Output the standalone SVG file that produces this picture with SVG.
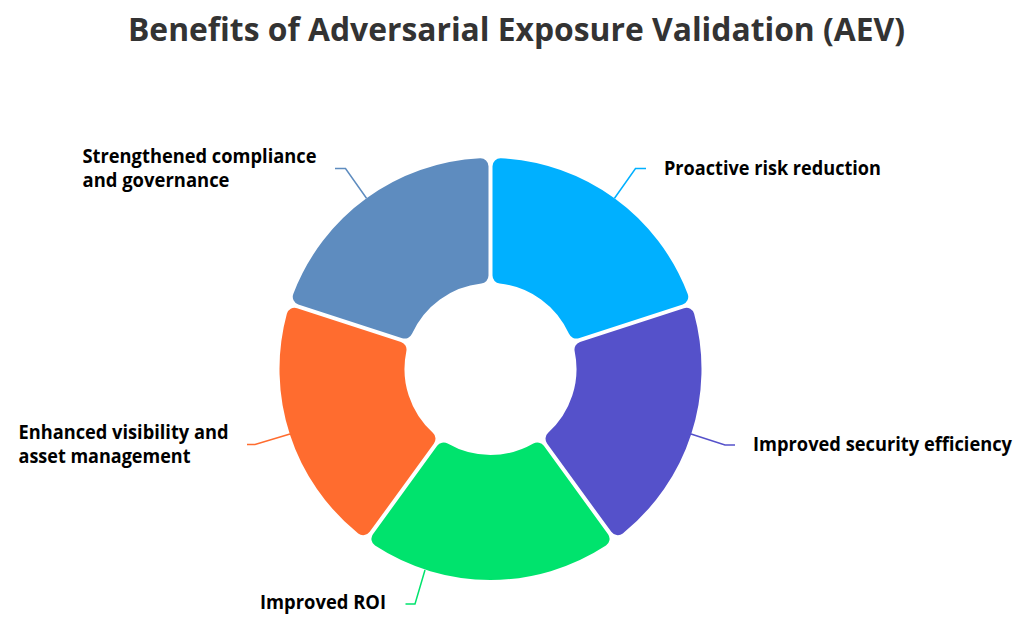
<svg xmlns="http://www.w3.org/2000/svg" xmlns:xlink="http://www.w3.org/1999/xlink" width="1025" height="625" viewBox="0 0 1025 625">
<style>
.title{font-family:"Open Sans","Noto Sans","Liberation Sans",sans-serif;font-weight:700;font-size:33px;fill:#333333}
.label{font-family:"Open Sans","Noto Sans","Liberation Sans",sans-serif;font-weight:700;font-size:19px;fill:#000000}
.leader{fill:none;stroke-width:1.5}
</style>
<defs>
<path id="seg" d="M 500.894 158.256 A 211 211 0 0 1 687.717 293.989 A 8 8 0 0 1 682.713 304.444 L 578.774 338.215 A 8 8 0 0 1 568.999 333.874 A 86 86 0 0 0 499.649 283.488 A 8 8 0 0 1 492.5 275.533 L 492.5 166.246 A 8 8 0 0 1 500.894 158.256 Z"/>
</defs>
<rect width="1025" height="625" fill="#ffffff"/>
<text class="title" x="128" y="40.5" textLength="777" lengthAdjust="spacingAndGlyphs">Benefits of Adversarial Exposure Validation (AEV)</text>

<g id="connectors">
<path class="leader" stroke="#00B0FF" d="M 614.5 198.3 L 635.5 168.5 L 646 168.5"/>
<path class="leader" stroke="#5551CA" d="M 691 434 L 725 445 L 735 445"/>
<path class="leader" stroke="#00E36D" d="M 425 570 L 415 604 L 405.5 604"/>
<path class="leader" stroke="#FF6C2F" d="M 290 434 L 255 444.5 L 247 444.5"/>
<path class="leader" stroke="#5E8CBF" d="M 366.5 198.3 L 345.5 168.5 L 335 168.5"/>
</g>

<g id="node-proactive">
<use xlink:href="#seg" href="#seg" fill="#00B0FF"/>
<text class="label" x="664" y="175" textLength="217" lengthAdjust="spacingAndGlyphs">Proactive risk reduction</text>
</g>
<g id="node-efficiency">
<use xlink:href="#seg" href="#seg" fill="#5551CA" transform="rotate(72 490.5 369)"/>
<text class="label" x="753" y="450.5" textLength="259" lengthAdjust="spacingAndGlyphs">Improved security efficiency</text>
</g>
<g id="node-roi">
<use xlink:href="#seg" href="#seg" fill="#00E36D" transform="rotate(144 490.5 369)"/>
<text class="label" x="260" y="609" textLength="126" lengthAdjust="spacingAndGlyphs">Improved ROI</text>
</g>
<g id="node-visibility">
<use xlink:href="#seg" href="#seg" fill="#FF6C2F" transform="rotate(216 490.5 369)"/>
<text class="label" x="18.5" y="438.5" textLength="210" lengthAdjust="spacingAndGlyphs">Enhanced visibility and</text>
<text class="label" x="18.5" y="462.5" textLength="172" lengthAdjust="spacingAndGlyphs">asset management</text>
</g>
<g id="node-compliance">
<use xlink:href="#seg" href="#seg" fill="#5E8CBF" transform="rotate(288 490.5 369)"/>
<text class="label" x="82.5" y="162.5" textLength="234" lengthAdjust="spacingAndGlyphs">Strengthened compliance</text>
<text class="label" x="82.5" y="187" textLength="147" lengthAdjust="spacingAndGlyphs">and governance</text>
</g>
</svg>
